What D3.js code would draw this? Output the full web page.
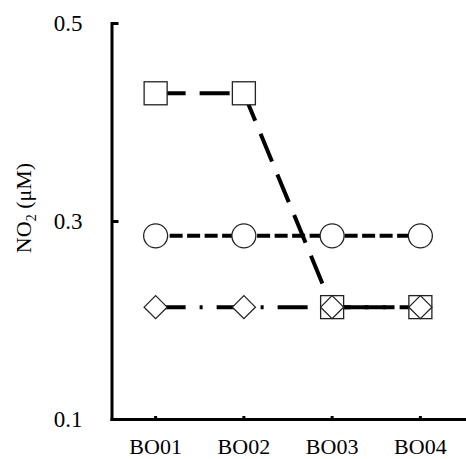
<!DOCTYPE html>
<html>
<head>
<meta charset="utf-8">
<script src="https://cdn.jsdelivr.net/npm/d3@7"></script>
<style>
  html, body { margin: 0; padding: 0; background: #fff; }
  svg { display: block; font-family: "Liberation Serif", "Times New Roman", serif; }
</style>
</head>
<body>
<svg id="chart" width="466" height="459"></svg>
<script>
// Sampling sites along the x axis
const categories = ["BO01", "BO02", "BO03", "BO04"];
// NO2 concentrations (µM) for the three series
const squareValues = [0.429, 0.429, 0.213, 0.213];
const circleValues = [0.285, 0.285, 0.285, 0.285];
const diamondValues = [0.213, 0.213, 0.213, 0.213];
// Y-axis tick values
const yTicks = [0.1, 0.3, 0.5];

const svg = d3.select("#chart");

const x = d3.scaleBand().domain(categories).range([111.5, 464.5]).padding(0);
const y = d3.scaleLinear().domain([0.1, 0.5]).range([419, 23]);
const cx = c => x(c) + x.bandwidth() / 2;

// Axes
const yAxis = svg.append("g")
  .attr("transform", "translate(111.5,0)")
  .call(d3.axisLeft(y).tickValues(yTicks).tickFormat(d3.format(".1f"))
    .tickSizeInner(-7).tickSizeOuter(0).tickPadding(29));
const xAxis = svg.append("g")
  .attr("transform", "translate(0,419)")
  .call(d3.axisBottom(x).tickSizeInner(-3).tickSizeOuter(0).tickPadding(19));

[yAxis, xAxis].forEach(g => {
  g.attr("font-family", "Liberation Serif");
  g.select(".domain").attr("stroke", "#000").attr("stroke-width", 3).attr("stroke-linecap", "square");
  g.selectAll(".tick line").attr("stroke", "#000").attr("stroke-width", 3);
  g.selectAll(".tick text").attr("fill", "#000");
});
yAxis.attr("font-size", 23);
xAxis.attr("font-size", 22);

// Y-axis title with subscript
const title = svg.append("text")
  .attr("transform", "translate(31,208) rotate(-90)")
  .attr("text-anchor", "middle")
  .attr("font-size", 22)
  .attr("fill", "#000");
title.append("tspan").text("NO");
title.append("tspan").attr("font-size", 14).attr("dy", 5).text("2");
title.append("tspan").attr("dy", -5).text(" (μM)");

// Series lines
const line = vals => d3.line()
  .x((d, i) => cx(categories[i]))
  .y(d => y(d))(vals);

svg.append("path").attr("d", line(squareValues))
  .attr("fill", "none").attr("stroke", "#000").attr("stroke-width", 4)
  .attr("stroke-dasharray", "30 14");
svg.append("path").attr("d", line(circleValues))
  .attr("fill", "none").attr("stroke", "#000").attr("stroke-width", 4)
  .attr("stroke-dasharray", "13 4.5").attr("stroke-dashoffset", 3.5);
svg.append("path").attr("d", line(diamondValues))
  .attr("fill", "none").attr("stroke", "#000").attr("stroke-width", 4)
  .attr("stroke-dasharray", "30 14 3 14");

// Markers
const markerStroke = "#222";
svg.append("g").selectAll("rect").data(squareValues).join("rect")
  .attr("x", (d, i) => cx(categories[i]) - 11.5)
  .attr("y", d => y(d) - 11.5)
  .attr("width", 23).attr("height", 23)
  .attr("fill", "#fff").attr("stroke", markerStroke).attr("stroke-width", 1.3);

svg.append("g").selectAll("circle").data(circleValues).join("circle")
  .attr("cx", (d, i) => cx(categories[i]))
  .attr("cy", d => y(d))
  .attr("r", 12)
  .attr("fill", "#fff").attr("stroke", markerStroke).attr("stroke-width", 1.3);

svg.append("g").selectAll("path").data(diamondValues).join("path")
  .attr("d", (d, i) => {
    const px = cx(categories[i]), py = y(d), r = 11.5;
    return `M${px},${py - r}L${px + r},${py}L${px},${py + r}L${px - r},${py}Z`;
  })
  .attr("fill", "#fff").attr("stroke", markerStroke).attr("stroke-width", 1.3);
</script>
</body>
</html>
